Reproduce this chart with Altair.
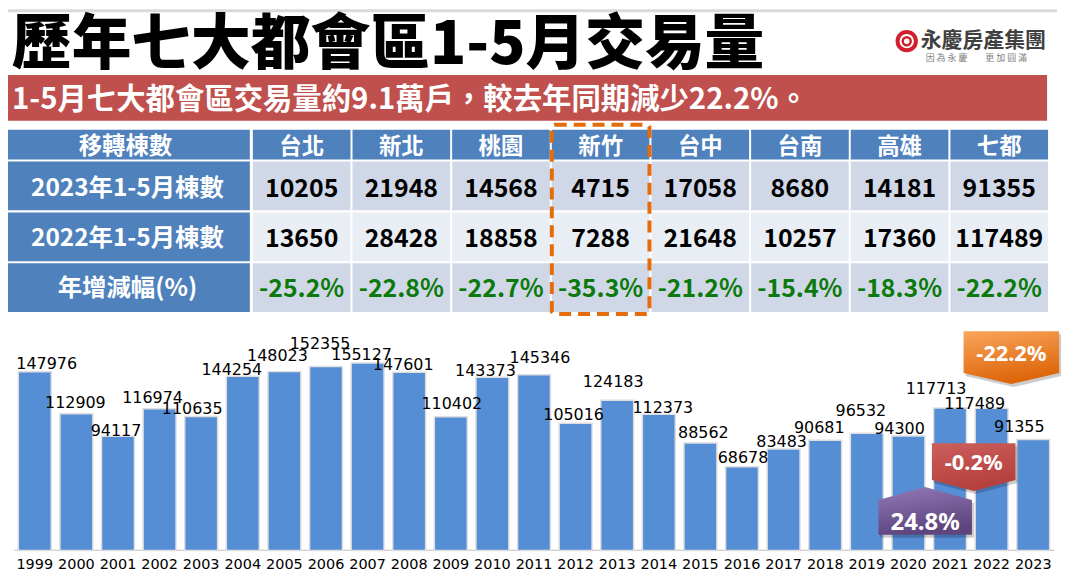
import altair as alt
import pandas as pd

# ---------------- values ----------------
years = [str(y) for y in range(1999, 2024)]
volumes = [147976, 112909, 94117, 116974, 110635, 144254, 148023, 152355, 155127,
           147601, 110402, 143373, 145346, 105016, 124183, 112373, 88562, 68678,
           83483, 90681, 96532, 94300, 117713, 117489, 91355]

cities = ["台北", "新北", "桃園", "新竹", "台中", "台南", "高雄", "七都"]
count_2023 = [10205, 21948, 14568, 4715, 17058, 8680, 14181, 91355]
count_2022 = [13650, 28428, 18858, 7288, 21648, 10257, 17360, 117489]
yoy_pct = [-25.2, -22.8, -22.7, -35.3, -21.2, -15.4, -18.3, -22.2]
row_labels = ["2023年1-5月棟數", "2022年1-5月棟數", "年增減幅(%)"]
header_label = "移轉棟數"
highlight_city = "新竹"

title_text = "歷年七大都會區1-5月交易量"
banner_text = "1-5月七大都會區交易量約9.1萬戶，較去年同期減少22.2%。"
logo_name = "永慶房產集團"
logo_slogan = "因 為 永 慶　　更 加 圓 滿"

# hand placement of the value labels in the reference (px above bar top / px sideways)
label_lift = [9, 12, 7, 13, 9, 8, 17, 24, 10, 9, 15, 8, 19, 10, 20, 8, 12, 10, 9, 14, 24, 9, 21, 6, 14]
label_shift = [12, -1, -2, -7, -9, -11, -7, -6, -6, -6, 1, -7, 6, -2, -4, 4, 3, 1, -2, -6, -6, -9, -14, -17, -14]

# ---------------- layout ----------------
W, H = 1054, 543
CJK = "Noto Sans CJK TC"
BAR_RANGE = [6, 1051]
Y_TOP = 310
Y_MAX = 193500
STEP = (BAR_RANGE[1] - BAR_RANGE[0]) / len(years)

one = pd.DataFrame({"k": [0]})


def fixed():
    return alt.Chart(one)


layers = []

# ---- header: top line, title, logo, banner ----
layers.append(fixed().mark_rect(color="#D9D9D9").encode(
    x=alt.value(0), x2=alt.value(W), y=alt.value(0), y2=alt.value(3)))
layers.append(fixed().mark_text(text=title_text, align="left", baseline="middle", font=CJK,
                                fontSize=60, fontWeight=900, color="#000000").encode(
    x=alt.value(4), y=alt.value(37)))
layers.append(fixed().mark_point(shape="circle", filled=False, size=340, stroke="#D0202E",
                                 strokeWidth=4, opacity=1).encode(x=alt.value(903), y=alt.value(32)))
layers.append(fixed().mark_point(shape="circle", filled=False, size=64, stroke="#D0202E",
                                 strokeWidth=2.5, opacity=1).encode(x=alt.value(903), y=alt.value(32)))
layers.append(fixed().mark_text(text=logo_name, align="left", baseline="middle", font=CJK,
                                fontSize=21, fontWeight="bold", color="#404040").encode(
    x=alt.value(917), y=alt.value(32)))
layers.append(fixed().mark_text(text=logo_slogan, align="left", baseline="middle", font=CJK,
                                fontSize=9, color="#808080").encode(x=alt.value(922), y=alt.value(49)))
layers.append(fixed().mark_rect(color="#C0504D").encode(
    x=alt.value(0), x2=alt.value(1044), y=alt.value(66), y2=alt.value(112)))
layers.append(fixed().mark_text(text=banner_text, align="left", baseline="middle", font=CJK,
                                fontSize=29.5, fontWeight="bold", color="#FFFFFF").encode(
    x=alt.value(4), y=alt.value(91)))

# ---- table ----
tx = alt.Scale(domain=cities, range=[245, 1046], paddingInner=0.02, paddingOuter=0.01)
ty = alt.Scale(domain=row_labels, range=[153, 304], paddingInner=0.04, paddingOuter=0)

hdr_df = pd.DataFrame({"city": cities})
body = []
for i, c in enumerate(cities):
    body.append({"city": c, "row": row_labels[0], "txt": str(count_2023[i]), "kind": "n"})
    body.append({"city": c, "row": row_labels[1], "txt": str(count_2022[i]), "kind": "n"})
    body.append({"city": c, "row": row_labels[2], "txt": f"{yoy_pct[i]:.1f}%", "kind": "p"})
body_df = pd.DataFrame(body)
rows_df = pd.DataFrame({"row": row_labels})

X_city = alt.X("city:N", scale=tx, axis=None)
Y_row = alt.Y("row:N", scale=ty, axis=None)

layers.append(alt.Chart(hdr_df).mark_rect(color="#4F81BD").encode(
    x=X_city, y=alt.value(121), y2=alt.value(151)))
layers.append(alt.Chart(hdr_df).mark_text(font=CJK, fontSize=22.5, fontWeight="bold", color="#FFFFFF").encode(
    x=X_city, y=alt.value(138), text="city:N"))
layers.append(fixed().mark_rect(color="#4F81BD").encode(
    x=alt.value(0), x2=alt.value(243), y=alt.value(121), y2=alt.value(151)))
layers.append(fixed().mark_text(text=header_label, font=CJK, fontSize=23.5, fontWeight="bold",
                                color="#FFFFFF").encode(x=alt.value(118), y=alt.value(138)))

layers.append(alt.Chart(body_df).mark_rect().encode(
    x=X_city, y=Y_row,
    color=alt.Color("row:N", scale=alt.Scale(domain=row_labels, range=["#D0D8E8", "#E9EDF4", "#D0D8E8"]),
                    legend=None)))
layers.append(alt.Chart(body_df).mark_text(font=CJK, fontSize=25, fontWeight="bold", dy=2).encode(
    x=X_city, y=Y_row, text="txt:N",
    fill=alt.Fill("kind:N", scale=alt.Scale(domain=["n", "p"], range=["#000000", "#0B7A0B"]), legend=None)))
layers.append(alt.Chart(rows_df).mark_rect(color="#4F81BD").encode(
    x=alt.value(0), x2=alt.value(243), y=Y_row))
layers.append(alt.Chart(rows_df).mark_text(font=CJK, fontSize=24.5, fontWeight="bold", color="#FFFFFF", dy=2).encode(
    x=alt.value(120), y=Y_row, text="row:N"))
layers.append(alt.Chart(hdr_df).transform_filter(alt.datum.city == highlight_city).mark_rect(
    fillOpacity=0, stroke="#E46C0A", strokeWidth=4, strokeDash=[12, 7], cornerRadius=3).encode(
    x=X_city, y=alt.value(116), y2=alt.value(306)))

# ---- bar chart ----
bx = alt.Scale(domain=years, range=BAR_RANGE, paddingInner=0.245, paddingOuter=0.1225)
by = alt.Scale(domain=[0, Y_MAX], range=[H, Y_TOP], nice=False, zero=True)
px_per_unit = (H - Y_TOP) / Y_MAX

bar_df = pd.DataFrame({"year": years, "volume": volumes})
lab_df = pd.DataFrame({
    "idx": list(range(len(years))),
    "vtxt": [str(v) for v in volumes],
    "lx": [i + s / STEP for i, s in enumerate(label_shift)],
    "ly": [v + d / px_per_unit for v, d in zip(volumes, label_lift)],
})

x_axis = alt.Axis(title=None, labelAngle=0, labelFont="DejaVu Sans", labelFontSize=14.5,
                  labelColor="#000000", ticks=False, domainColor="#BFBFBF", domainWidth=1.2,
                  labelPadding=8, grid=False, orient="bottom")

layers.append(alt.Chart(bar_df).mark_bar(color="#D9D9D9", stroke="#DEDEDE", strokeWidth=3).encode(
    x=alt.X("year:N", scale=bx, axis=x_axis), y=alt.Y("volume:Q", scale=by, axis=None)))
layers.append(alt.Chart(bar_df).mark_bar(color="#558ED5").encode(
    x=alt.X("year:N", scale=bx, axis=None), y=alt.Y("volume:Q", scale=by, axis=None)))
layers.append(alt.Chart(lab_df).mark_text(font="DejaVu Sans", fontSize=16, color="#000000",
                                          baseline="middle", dy=1).encode(
    x=alt.X("lx:Q", scale=alt.Scale(domain=[-0.5, len(years) - 0.5], range=BAR_RANGE, nice=False, zero=False),
            axis=None),
    y=alt.Y("ly:Q", scale=by, axis=None),
    text="vtxt:N"))

# ---- growth callouts (computed from the bars) ----
def pct(a, b):
    return f"{(b / a - 1) * 100:.1f}%"


call_df = pd.DataFrame({
    "year": ["2021", "2022", "2023"],
    "txt": [pct(volumes[-4], volumes[-3]), pct(volumes[-3], volumes[-2]), pct(volumes[-2], volumes[-1])],
})


def down_path(w, box, arrow):
    hh = (box + arrow) / w
    boxb = -hh + 2 * box / w
    return f"M-1,{-hh:.3f}L1,{-hh:.3f}L1,{boxb:.3f}L0,{hh:.3f}L-1,{boxb:.3f}Z"


def up_path(w, box, arrow):
    hh = (box + arrow) / w
    sh = -hh + 2 * arrow / w
    return f"M0,{-hh:.3f}L1,{sh:.3f}L1,{hh:.3f}L-1,{hh:.3f}L-1,{sh:.3f}Z"


def grad(c0, c1):
    return {"gradient": "linear", "x1": 0, "y1": 0, "x2": 0.3, "y2": 1,
            "stops": [{"offset": 0, "color": c0}, {"offset": 1, "color": c1}]}


callouts = [
    # year, path, width, shape-centre y, text y, x offset, gradient, font size
    ("2021", up_path(94, 35, 13), 94, 504, 516, -25, grad("#9479B8", "#5E457E"), 24),
    ("2022", down_path(84, 37, 11), 84, 460, 456, -18, grad("#CB5E5B", "#B5403D"), 22),
    ("2023", down_path(96, 42, 11), 96, 350, 346, -22, grad("#FAA55C", "#DD660A"), 22),
]
for yr, path, w, cy, ty_, xo, g, fs in callouts:
    src = alt.Chart(call_df).transform_filter(alt.datum.year == yr)
    xenc = alt.X("year:N", scale=bx, axis=None)
    layers.append(src.mark_point(shape=path, size=w * w, filled=True, fill="#000000", opacity=0.2,
                                 strokeWidth=0, xOffset=xo + 2, yOffset=3).encode(x=xenc, y=alt.value(cy)))
    layers.append(src.mark_point(shape=path, size=w * w, filled=True, fill=g, opacity=1,
                                 strokeWidth=0, xOffset=xo).encode(x=xenc, y=alt.value(cy)))
    layers.append(src.mark_text(font="Noto Sans", fontSize=fs, fontWeight="bold", color="#FFFFFF",
                                baseline="middle", xOffset=xo).encode(
        x=xenc, y=alt.value(ty_), text="txt:N"))

chart = alt.layer(*layers).resolve_scale(
    x="independent", y="independent", color="independent", fill="independent"
).properties(width=W, height=H, padding=0, background="#FFFFFF").configure_view(strokeWidth=0)

chart.save("out.html", embed_options={"renderer": "svg", "actions": False})
